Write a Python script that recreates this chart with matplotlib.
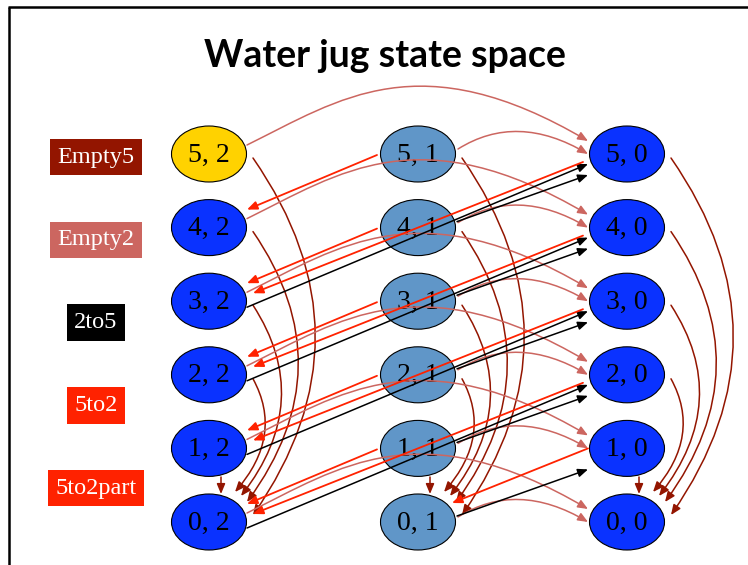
import matplotlib
matplotlib.use("Agg")
import matplotlib.pyplot as plt
from matplotlib.patches import Ellipse, FancyArrowPatch
from matplotlib.path import Path

# states (a, b): a = litres in the 5 jug, b = litres in the 2 jug
big_levels = [5, 4, 3, 2, 1, 0]
small_levels = [2, 1, 0]
goal_state = (5, 2)

# moves, as (from_state, to_state)
empty5 = [((5, 2), (0, 2)), ((4, 2), (0, 2)), ((3, 2), (0, 2)), ((2, 2), (0, 2)), ((1, 2), (0, 2)),
          ((5, 1), (0, 1)), ((4, 1), (0, 1)), ((3, 1), (0, 1)), ((2, 1), (0, 1)), ((1, 1), (0, 1)),
          ((5, 0), (0, 0)), ((4, 0), (0, 0)), ((3, 0), (0, 0)), ((2, 0), (0, 0)), ((1, 0), (0, 0))]
empty2 = [((5, 2), (5, 0)), ((4, 2), (4, 0)), ((3, 2), (3, 0)), ((2, 2), (2, 0)), ((1, 2), (1, 0)), ((0, 2), (0, 0)),
          ((5, 1), (5, 0)), ((4, 1), (4, 0)), ((3, 1), (3, 0)), ((2, 1), (2, 0)), ((1, 1), (1, 0)), ((0, 1), (0, 0))]
pour_2to5 = [((3, 2), (5, 0)), ((2, 2), (4, 0)), ((1, 2), (3, 0)), ((0, 2), (2, 0)),
             ((4, 1), (5, 0)), ((3, 1), (4, 0)), ((2, 1), (3, 0)), ((1, 1), (2, 0)), ((0, 1), (1, 0))]
pour_5to2 = [((5, 0), (3, 2)), ((4, 0), (2, 2)), ((3, 0), (1, 2)), ((2, 0), (0, 2)), ((1, 0), (0, 1))]
pour_5to2part = [((5, 1), (4, 2)), ((4, 1), (3, 2)), ((3, 1), (2, 2)), ((2, 1), (1, 2)), ((1, 1), (0, 2))]

legend_labels = ["Empty5", "Empty2", "2to5", "5to2", "5to2part"]
legend_colors = ["#931500", "#CC6660", "#000000", "#FF2200", "#FF2200"]

node_colors = {2: "#0A32FF", 1: "#6096C8", 0: "#0A32FF"}
goal_color = "#FFD200"

# layout (pixel space)
col_x = {2: 209, 1: 418, 0: 627}
row_y = {a: 522 - 73.6 * a for a in big_levels}
RX, RY = 37.5, 28


def pos(s):
    return col_x[s[1]], row_y[s[0]]


fig = plt.figure(figsize=(7.48, 5.65), dpi=100)
ax = fig.add_axes([0, 0, 1, 1])
ax.set_xlim(0, 748)
ax.set_ylim(565, 0)
ax.axis("off")

# slide frame
ax.plot([8, 748], [7, 7], color="black", lw=1.8, solid_capstyle="butt")
ax.plot([9, 9], [7, 565], color="black", lw=1.8, solid_capstyle="butt")

ax.text(384.5, 67, "Water jug state space", ha="center", va="baseline",
        fontsize=27, fontweight="bold", family="Lato")

# nodes
for b in small_levels:
    for a in big_levels:
        x, y = pos((a, b))
        fc = goal_color if (a, b) == goal_state else node_colors[b]
        ax.add_patch(Ellipse((x, y), 2 * RX, 2 * RY, fc=fc, ec="black", lw=0.8, zorder=1))
        ax.text(x, y + 1, f"{a}, {b}", ha="center", va="center", fontsize=20,
                family="Liberation Serif", zorder=2)

# legend boxes
for i, (lab, c) in enumerate(zip(legend_labels, legend_colors)):
    ax.text(96, 157 + i * 82.8, lab, ha="center", va="center", color="white", fontsize=17.5,
            family="Liberation Serif",
            bbox=dict(boxstyle="square,pad=0.32", fc=c, ec="none"))

HEAD = "-|>,head_length=0.6,head_width=0.25"


def arrow(verts, codes, color, lw=1.1):
    p = FancyArrowPatch(path=Path(verts, codes), arrowstyle=HEAD, mutation_scale=10,
                        color=color, lw=lw, zorder=3)
    ax.add_patch(p)


def straight(p0, p1, color, lw=1.1):
    arrow([p0, p1], [Path.MOVETO, Path.LINETO], color, lw)


# Empty5: bowed curves down the same column
end_off = {2: (26, -30), 3: (32, -26), 4: (38, -20), 5: (44, -7)}
for src, dst in empty5:
    x0, y0 = pos(src)
    x1, y1 = pos(dst)
    a = src[0]
    if a == 1:
        straight((x0 + 12, y0 + 29), (x1 + 12, y1 - 28), legend_colors[0])
        continue
    p0 = (x0 + 44, y0 + 4)
    p2 = (x1 + end_off[a][0], y1 + end_off[a][1])
    bulge = 20 + 14 * (a - 2)
    c = ((p0[0] + p2[0]) / 2 + 2 * bulge, (p0[1] + p2[1]) / 2)
    arrow([p0, c, p2], [Path.MOVETO, Path.CURVE3, Path.CURVE3], legend_colors[0])

# Empty2: arcs to the right column
for src, dst in empty2:
    x0, y0 = pos(src)
    x1, y1 = pos(dst)
    if src[1] == 2:
        verts = [(x0 + 38, y0 - 9), (x0 + 131, y0 - 55), (x0 + 211, y0 - 112), (x1 - 39, y1 - 13)]
        codes = [Path.MOVETO, Path.CURVE4, Path.CURVE4, Path.CURVE4]
    else:
        verts = [(x0 + 40, y0 - 5), (x0 + 99, y0 - 42), (x1 - 39, y1)]
        codes = [Path.MOVETO, Path.CURVE3, Path.CURVE3]
    arrow(verts, codes, legend_colors[1])

# 2to5
for src, dst in pour_2to5:
    x0, y0 = pos(src)
    x1, y1 = pos(dst)
    if src[1] == 2:
        straight((x0 + 38, y0 + 6), (x1 - 39, y1 + 10), legend_colors[2])
    else:
        straight((x0 + 39, y0 - 6), (x1 - 39, y1 + 21), legend_colors[2])

# 5to2 and 5to2part
for src, dst in pour_5to2 + pour_5to2part:
    x0, y0 = pos(src)
    x1, y1 = pos(dst)
    if src[1] == 0 and dst[1] == 2:
        straight((x0 - 44, y0 + 8), (x1 + 44, y1 - 8), legend_colors[3], 1.3)
    elif src[1] == 1:
        straight((x0 - 41, y0 + 1), (x1 + 38, y1 - 18), legend_colors[4], 1.3)
    else:
        straight((x0 - 39, y0), (x1 + 34, y1 - 19), legend_colors[3], 1.3)

fig.savefig("out.png", dpi=100)
